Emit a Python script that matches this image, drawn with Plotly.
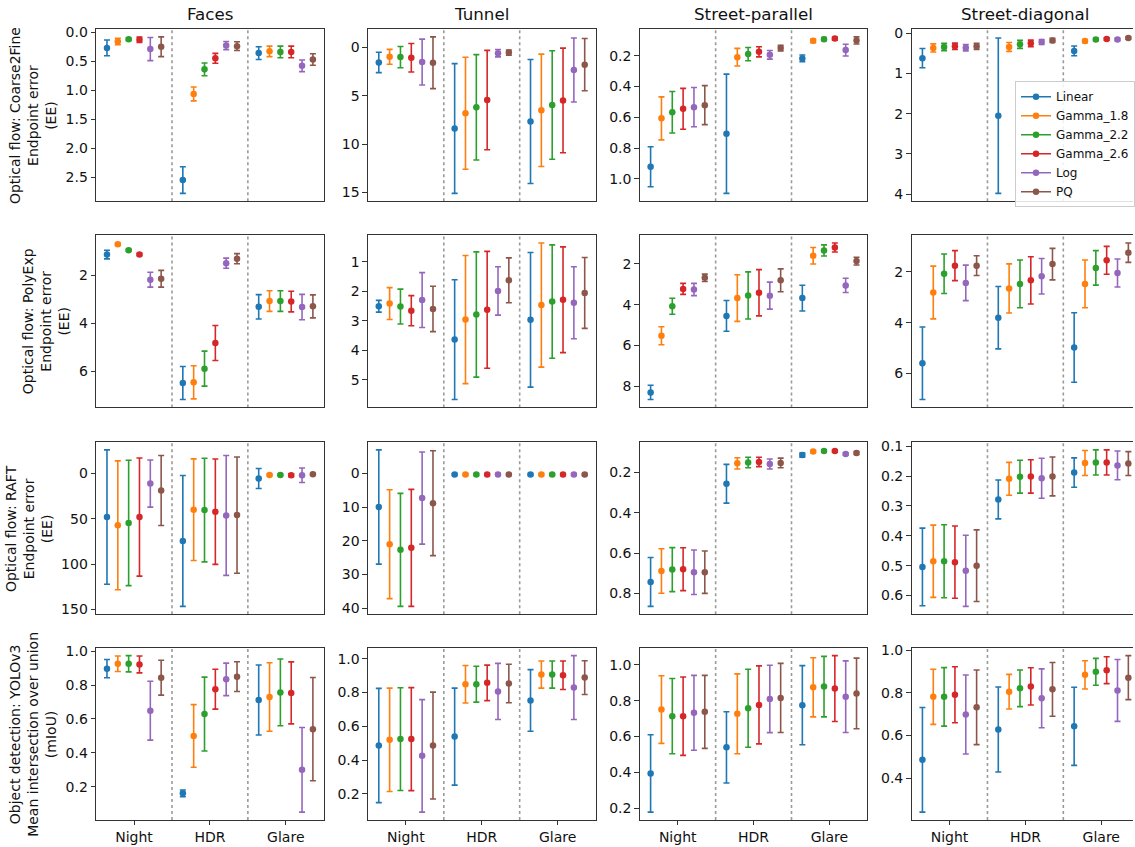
import plotly.graph_objects as go

# ---------------- data ----------------
encodings = ["Linear", "Gamma_1.8", "Gamma_2.2", "Gamma_2.6", "Log", "PQ"]
colors = ["#1f77b4", "#ff7f0e", "#2ca02c", "#d62728", "#9467bd", "#8c564b"]
conditions = ["Night", "HDR", "Glare"]
scenes = ["Faces", "Tunnel", "Street-parallel", "Street-diagonal"]
row_titles = [
    "Optical flow: Coarse2Fine<br>Endpoint error<br>(EE)",
    "Optical flow: PolyExp<br>Endpoint error<br>(EE)",
    "Optical flow: RAFT<br>Endpoint error<br>(EE)",
    "Object detection: YOLOv3<br>Mean intersection over union<br>(mIoU)",
]

# each: [Night, HDR, Glare] x [Linear, G1.8, G2.2, G2.6, Log, PQ]
c2f_faces_mean = [[0.27, 0.16, 0.12, 0.13, 0.29, 0.25], [2.55, 1.065, 0.64, 0.45, 0.23, 0.24], [0.36, 0.33, 0.34, 0.34, 0.58, 0.47]]
c2f_faces_err = [[0.135, 0.055, 0.02, 0.045, 0.2, 0.17], [0.23, 0.12, 0.11, 0.085, 0.07, 0.075], [0.11, 0.09, 0.1, 0.1, 0.1, 0.1]]
c2f_tunnel_mean = [[1.57, 0.99, 1.02, 1.09, 1.53, 1.6], [8.39, 6.82, 6.2, 5.45, 0.61, 0.55], [7.67, 6.51, 5.97, 5.49, 2.35, 1.8]]
c2f_tunnel_err = [[1.05, 0.77, 1.1, 1.47, 2.37, 2.67], [6.7, 5.78, 5.44, 5.13, 0.38, 0.27], [6.4, 5.8, 5.6, 5.4, 3.3, 2.7]]
c2f_spar_mean = [[0.922, 0.607, 0.567, 0.545, 0.534, 0.521], [0.707, 0.209, 0.189, 0.174, 0.194, 0.15], [0.217, 0.103, 0.092, 0.088, 0.163, 0.1]]
c2f_spar_err = [[0.13, 0.14, 0.135, 0.133, 0.128, 0.127], [0.388, 0.057, 0.043, 0.033, 0.028, 0.018], [0.022, 0.012, 0.01, 0.01, 0.038, 0.023]]
c2f_sdia_mean = [[0.62, 0.367, 0.343, 0.327, 0.36, 0.327], [2.05, 0.343, 0.278, 0.253, 0.22, 0.18], [0.44, 0.196, 0.155, 0.147, 0.155, 0.122]]
c2f_sdia_err = [[0.24, 0.1, 0.09, 0.08, 0.08, 0.075], [1.93, 0.11, 0.1, 0.08, 0.06, 0.05], [0.12, 0.04, 0.03, 0.03, 0.03, 0.03]]

poly_faces_mean = [[1.14, 0.71, 0.96, 1.14, 2.19, 2.15], [6.5, 6.47, 5.9, 4.83, 1.5, 1.31], [3.32, 3.08, 3.08, 3.1, 3.33, 3.3]]
poly_faces_err = [[0.18, 0.05, 0.04, 0.05, 0.31, 0.35], [0.69, 0.69, 0.73, 0.73, 0.21, 0.21], [0.51, 0.43, 0.43, 0.43, 0.53, 0.48]]
poly_tunnel_mean = [[2.51, 2.42, 2.52, 2.66, 2.3, 2.6], [3.64, 2.96, 2.79, 2.63, 1.99, 1.63], [2.97, 2.47, 2.35, 2.29, 2.39, 2.06]]
poly_tunnel_err = [[0.2, 0.54, 0.59, 0.51, 0.93, 0.77], [2.03, 2.17, 2.12, 1.98, 0.82, 0.76], [2.28, 2.1, 1.92, 1.79, 1.22, 1.2]]
poly_spar_mean = [[8.29, 5.52, 4.08, 3.23, 3.26, 2.69], [4.55, 3.68, 3.55, 3.42, 3.56, 2.81], [3.68, 1.61, 1.35, 1.21, 3.06, 1.87]]
poly_spar_err = [[0.35, 0.44, 0.39, 0.27, 0.3, 0.18], [0.75, 1.14, 1.15, 1.13, 0.66, 0.56], [0.63, 0.4, 0.27, 0.22, 0.35, 0.19]]
poly_sdia_mean = [[5.6, 2.81, 2.07, 1.75, 2.43, 1.75], [3.8, 2.65, 2.47, 2.33, 2.17, 1.69], [4.98, 2.47, 1.84, 1.54, 2.04, 1.24]]
poly_sdia_err = [[1.43, 1.04, 0.78, 0.59, 0.7, 0.39], [1.23, 0.97, 0.94, 0.93, 0.7, 0.62], [1.37, 0.94, 0.68, 0.55, 0.55, 0.38]]

raft_faces_mean = [[48.2, 57.3, 54.7, 48.2, 11.3, 19.0], [74.5, 40.1, 40.5, 42.3, 46.4, 46.0], [5.8, 1.8, 1.8, 2.2, 2.2, 1.1]]
raft_faces_err = [[74, 71, 69, 65, 26, 38.5], [72, 56, 57, 58, 66, 64], [11, 1, 1, 1.5, 8, 1]]
raft_tunnel_mean = [[9.95, 21.0, 22.7, 22.1, 7.3, 8.8], [0.3, 0.3, 0.3, 0.3, 0.3, 0.3], [0.3, 0.3, 0.3, 0.3, 0.3, 0.3]]
raft_tunnel_err = [[17, 16.2, 16.8, 17.4, 13.7, 15.6], [0.3, 0.3, 0.3, 0.3, 0.3, 0.3], [0.3, 0.3, 0.3, 0.3, 0.3, 0.3]]
raft_spar_mean = [[0.743, 0.689, 0.682, 0.68, 0.695, 0.695], [0.257, 0.156, 0.152, 0.149, 0.159, 0.154], [0.115, 0.097, 0.095, 0.095, 0.11, 0.105]]
raft_spar_err = [[0.121, 0.11, 0.109, 0.106, 0.11, 0.105], [0.096, 0.028, 0.026, 0.023, 0.025, 0.024], [0.01, 0.006, 0.006, 0.006, 0.006, 0.007]]
raft_sdia_mean = [[0.504, 0.485, 0.485, 0.488, 0.517, 0.5], [0.278, 0.209, 0.202, 0.201, 0.207, 0.201], [0.188, 0.156, 0.154, 0.154, 0.164, 0.158]]
raft_sdia_err = [[0.13, 0.121, 0.122, 0.121, 0.119, 0.12], [0.065, 0.055, 0.055, 0.056, 0.067, 0.065], [0.049, 0.042, 0.042, 0.042, 0.048, 0.04]]

yolo_faces_mean = [[0.897, 0.926, 0.926, 0.922, 0.649, 0.844], [0.161, 0.5, 0.629, 0.776, 0.834, 0.85], [0.712, 0.73, 0.757, 0.754, 0.3, 0.54]]
yolo_faces_err = [[0.054, 0.046, 0.048, 0.05, 0.174, 0.103], [0.02, 0.185, 0.218, 0.118, 0.096, 0.088], [0.207, 0.202, 0.197, 0.183, 0.25, 0.305]]
yolo_tunnel_mean = [[0.486, 0.52, 0.524, 0.524, 0.425, 0.486], [0.539, 0.849, 0.849, 0.857, 0.806, 0.853], [0.753, 0.906, 0.906, 0.902, 0.829, 0.888]]
yolo_tunnel_err = [[0.338, 0.306, 0.304, 0.305, 0.333, 0.316], [0.287, 0.111, 0.106, 0.105, 0.166, 0.114], [0.182, 0.08, 0.08, 0.084, 0.189, 0.1]]
yolo_spar_mean = [[0.394, 0.751, 0.714, 0.714, 0.733, 0.738], [0.54, 0.727, 0.758, 0.777, 0.81, 0.816], [0.775, 0.875, 0.879, 0.868, 0.823, 0.841]]
yolo_spar_err = [[0.216, 0.189, 0.21, 0.219, 0.209, 0.204], [0.199, 0.223, 0.218, 0.218, 0.188, 0.193], [0.221, 0.165, 0.169, 0.184, 0.2, 0.197]]
yolo_sdia_mean = [[0.486, 0.781, 0.781, 0.791, 0.698, 0.732], [0.628, 0.805, 0.821, 0.83, 0.774, 0.816], [0.643, 0.884, 0.898, 0.906, 0.811, 0.871]]
yolo_sdia_err = [[0.245, 0.129, 0.137, 0.131, 0.185, 0.175], [0.199, 0.081, 0.086, 0.087, 0.138, 0.126], [0.183, 0.066, 0.063, 0.063, 0.145, 0.103]]

panels = [
    [(c2f_faces_mean, c2f_faces_err), (c2f_tunnel_mean, c2f_tunnel_err), (c2f_spar_mean, c2f_spar_err), (c2f_sdia_mean, c2f_sdia_err)],
    [(poly_faces_mean, poly_faces_err), (poly_tunnel_mean, poly_tunnel_err), (poly_spar_mean, poly_spar_err), (poly_sdia_mean, poly_sdia_err)],
    [(raft_faces_mean, raft_faces_err), (raft_tunnel_mean, raft_tunnel_err), (raft_spar_mean, raft_spar_err), (raft_sdia_mean, raft_sdia_err)],
    [(yolo_faces_mean, yolo_faces_err), (yolo_tunnel_mean, yolo_tunnel_err), (yolo_spar_mean, yolo_spar_err), (yolo_sdia_mean, yolo_sdia_err)],
]

# ---------------- layout / style ----------------
W, H = 1135, 847
col_left = [96.3, 368.6, 640.9, 913.2]
plot_w = 228.0
row_top = [23.3, 231.7, 440.7, 648.7]
plot_h = 174.0
ylab_x = [33, 46, 29, 33]
dticks = [[0.5, 5, 0.2, 1], [2, 1, 2, 2], [50, 10, 0.2, 0.1], [0.2, 0.2, 0.2, 0.2]]
fmts = [[".1f", "", ".1f", ""], ["", "", "", ""], ["", "", ".1f", ".1f"], [".1f", ".1f", ".1f", ".1f"]]
FONT = "DejaVu Sans"
AX = "#333333"
slot = 7  # group width in x units

fig = go.Figure()
layout = dict(
    width=W, height=H, margin=dict(l=0, r=0, t=0, b=0),
    paper_bgcolor="white", plot_bgcolor="white",
    font=dict(family=FONT, size=14, color="#111"),
    showlegend=True,
)
shapes = []
annotations = []

for r in range(4):
    for c in range(4):
        idx = r * 4 + c + 1
        xs = "x" if idx == 1 else f"x{idx}"
        ys = "y" if idx == 1 else f"y{idx}"
        mean, err = panels[r][c]
        for i, enc in enumerate(encodings):
            xv = [slot * g + 1 + i for g in range(len(conditions))]
            yv = [mean[g][i] for g in range(len(conditions))]
            ev = [err[g][i] for g in range(len(conditions))]
            fig.add_trace(go.Scatter(
                x=xv, y=yv, mode="markers",
                marker=dict(color=colors[i], size=6.5),
                error_y=dict(type="data", array=ev, visible=True, color=colors[i], thickness=1.6, width=3),
                xaxis=xs, yaxis=ys, showlegend=False, hoverinfo="skip",
            ))
        lo = min(mean[g][i] - err[g][i] for g in range(3) for i in range(6))
        hi = max(mean[g][i] + err[g][i] for g in range(3) for i in range(6))
        pad = 0.05 * (hi - lo)
        yr = [hi + pad, lo - pad] if r < 3 else [lo - pad, hi + pad]

        left = col_left[c]
        right = min(left + plot_w, W)
        xr = [0, slot * 3 * (right - left) / plot_w]
        top = row_top[r]
        xkey = "xaxis" if idx == 1 else f"xaxis{idx}"
        ykey = "yaxis" if idx == 1 else f"yaxis{idx}"
        layout[xkey] = dict(
            domain=[left / W, right / W], range=xr, anchor=ys,
            showline=True, linecolor=AX, linewidth=1, mirror=True,
            showgrid=False, zeroline=False,
            tickmode="array", tickvals=[slot * g + 3.5 for g in range(3)],
            ticktext=conditions, showticklabels=(r == 3),
            ticks="outside" if r == 3 else "", ticklen=4.5, tickwidth=1, tickcolor=AX,
            tickfont=dict(family=FONT, size=14, color="#111"),
            fixedrange=True,
        )
        layout[ykey] = dict(
            domain=[1 - (top + plot_h) / H, 1 - top / H], range=yr, anchor=xs,
            showline=True, linecolor=AX, linewidth=1, mirror=(c < 3),
            showgrid=False, zeroline=False,
            tickmode="linear", tick0=0, dtick=dticks[r][c], tickformat=fmts[r][c],
            ticks="outside", ticklen=4.5, tickwidth=1, tickcolor=AX,
            tickfont=dict(family=FONT, size=14, color="#111"),
            fixedrange=True,
        )
        for g in range(1, 3):
            shapes.append(dict(
                type="line", xref=xs, yref=f"{ys} domain", x0=slot * g, x1=slot * g, y0=0, y1=1,
                line=dict(color="#9a9a9a", width=1.6, dash="dot"), layer="below",
            ))

# column titles
for c, name in enumerate(scenes):
    annotations.append(dict(
        text=name, xref="paper", yref="paper",
        x=(col_left[c] + plot_w / 2) / W, y=1 - (row_top[0] - 3) / H,
        xanchor="center", yanchor="bottom", showarrow=False,
        font=dict(family=FONT, size=16.7, color="#111"),
    ))
# row labels
for r, t in enumerate(row_titles):
    annotations.append(dict(
        text=t, xref="paper", yref="paper",
        x=ylab_x[r] / W, y=1 - (row_top[r] + plot_h / 2) / H,
        xanchor="center", yanchor="middle", textangle=-90, showarrow=False, align="center",
        font=dict(family=FONT, size=14, color="#111"),
    ))

# legend entries
for i, enc in enumerate(encodings):
    fig.add_trace(go.Scatter(
        x=[None], y=[None], mode="lines+markers", name=enc,
        line=dict(color=colors[i], width=1.6), marker=dict(color=colors[i], size=6.5),
        xaxis="x4", yaxis="y4", showlegend=True,
    ))

layout["legend"] = dict(
    x=1017 / W, y=1 - 76 / H, xanchor="left", yanchor="top",
    bgcolor="rgba(255,255,255,0.85)", bordercolor="#cccccc", borderwidth=1,
    font=dict(family=FONT, size=12, color="#111"), itemwidth=30, tracegroupgap=0,
)
layout["shapes"] = shapes
layout["annotations"] = annotations
fig.update_layout(**layout)
fig.write_html(
    "out.html",
    config={"displayModeBar": False, "staticPlot": True},
    post_script="document.body.style.margin='0px';document.body.style.overflow='hidden';",
)
